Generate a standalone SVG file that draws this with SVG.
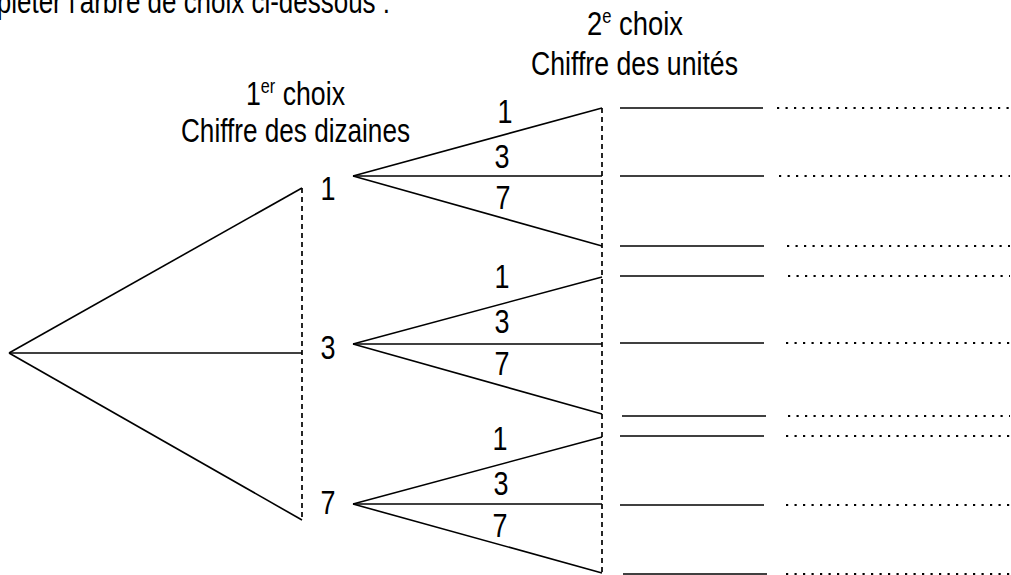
<svg xmlns="http://www.w3.org/2000/svg" width="1011" height="575" viewBox="0 0 1011 575">
<style>
text{font-family:"Liberation Sans",Arial,sans-serif;font-size:33px;fill:#000}
.d{text-anchor:middle}
.c{stroke:#000;stroke-width:1.6;fill:none}
.dash{stroke:#000;stroke-width:1.7;stroke-dasharray:5 4;fill:none}
.ans{stroke:#000;stroke-width:1.7;fill:none}
.dot{stroke:#000;stroke-width:2.2;stroke-dasharray:2.2 6.3;fill:none}
</style>
<rect width="1011" height="575" fill="#fff"/>
<text id="title" x="-58" y="13" textLength="448" lengthAdjust="spacingAndGlyphs">Compléter l'arbre de choix ci-dessous :</text>
<g id="header1">
<text x="246" y="105" textLength="99" lengthAdjust="spacingAndGlyphs">1<tspan font-size="20" dy="-12">er</tspan><tspan dy="12"> choix</tspan></text>
<text x="181" y="142" textLength="229" lengthAdjust="spacingAndGlyphs">Chiffre des dizaines</text>
</g>
<g id="header2">
<text x="587" y="35" textLength="96" lengthAdjust="spacingAndGlyphs">2<tspan font-size="20" dy="-12">e</tspan><tspan dy="12"> choix</tspan></text>
<text x="531" y="75" textLength="207" lengthAdjust="spacingAndGlyphs">Chiffre des unités</text>
</g>
<g id="guides">
<line class="dash" x1="302" y1="188" x2="302" y2="520"/>
<line class="dash" x1="602" y1="108" x2="602" y2="575"/>
</g>
<g id="connectors">
<line class="c" x1="9" y1="353" x2="302" y2="188"/>
<line class="c" x1="9" y1="353" x2="302" y2="353"/>
<line class="c" x1="9" y1="353" x2="302" y2="520"/>
<line class="c" x1="353" y1="176" x2="602" y2="108"/>
<line class="c" x1="353" y1="176" x2="602" y2="176"/>
<line class="c" x1="353" y1="176" x2="602" y2="246"/>
<line class="c" x1="353" y1="344" x2="602" y2="277"/>
<line class="c" x1="353" y1="344" x2="602" y2="344"/>
<line class="c" x1="353" y1="344" x2="602" y2="414"/>
<line class="c" x1="353" y1="504" x2="602" y2="437"/>
<line class="c" x1="353" y1="504" x2="602" y2="504"/>
<line class="c" x1="353" y1="504" x2="602" y2="573"/>
</g>
<g id="root"><circle cx="9" cy="353" r="0.01" fill="none"/></g>
<g id="node-1"><text class="d" x="328" y="200" textLength="15" lengthAdjust="spacingAndGlyphs">1</text></g>
<g id="node-3"><text class="d" x="328" y="359" textLength="15" lengthAdjust="spacingAndGlyphs">3</text></g>
<g id="node-7"><text class="d" x="328" y="514" textLength="15" lengthAdjust="spacingAndGlyphs">7</text></g>
<g id="branch-labels">
<text class="d" x="505" y="123" textLength="15" lengthAdjust="spacingAndGlyphs">1</text>
<text class="d" x="502" y="168" textLength="15" lengthAdjust="spacingAndGlyphs">3</text>
<text class="d" x="503" y="209" textLength="15" lengthAdjust="spacingAndGlyphs">7</text>
<text class="d" x="502" y="288" textLength="15" lengthAdjust="spacingAndGlyphs">1</text>
<text class="d" x="502" y="333" textLength="15" lengthAdjust="spacingAndGlyphs">3</text>
<text class="d" x="502" y="375" textLength="15" lengthAdjust="spacingAndGlyphs">7</text>
<text class="d" x="500" y="450" textLength="15" lengthAdjust="spacingAndGlyphs">1</text>
<text class="d" x="501" y="495" textLength="15" lengthAdjust="spacingAndGlyphs">3</text>
<text class="d" x="500" y="537" textLength="15" lengthAdjust="spacingAndGlyphs">7</text>
</g>
<g id="answers">
<line class="ans" x1="620" y1="108" x2="763" y2="108"/>
<line class="ans" x1="620" y1="176" x2="764" y2="176"/>
<line class="ans" x1="620" y1="246" x2="764" y2="246"/>
<line class="ans" x1="620" y1="276" x2="764" y2="276"/>
<line class="ans" x1="620" y1="343" x2="764" y2="343"/>
<line class="ans" x1="622" y1="416" x2="766" y2="416"/>
<line class="ans" x1="620" y1="436" x2="764" y2="436"/>
<line class="ans" x1="620" y1="505" x2="764" y2="505"/>
<line class="ans" x1="623" y1="574" x2="767" y2="574"/>
<line class="dot" x1="777" y1="108" x2="1010" y2="108"/>
<line class="dot" x1="779" y1="176" x2="1010" y2="176"/>
<line class="dot" x1="787" y1="246" x2="1010" y2="246"/>
<line class="dot" x1="788" y1="276" x2="1010" y2="276"/>
<line class="dot" x1="786" y1="343" x2="1010" y2="343"/>
<line class="dot" x1="788" y1="416" x2="1010" y2="416"/>
<line class="dot" x1="786" y1="436" x2="1010" y2="436"/>
<line class="dot" x1="786" y1="505" x2="1010" y2="505"/>
<line class="dot" x1="786" y1="574" x2="1010" y2="574"/>
</g>
</svg>
